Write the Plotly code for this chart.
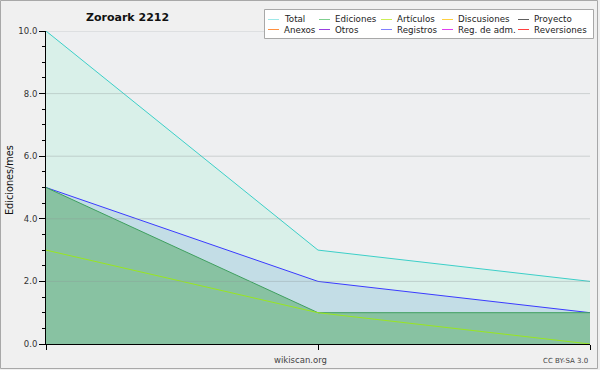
import plotly.graph_objects as go

# ---- data ----
periods = [0, 1, 2]
total = [10, 3, 2]
registros = [5, 2, 1]
ediciones = [5, 1, 1]
articulos = [3, 1, 0]

y_ticks = [0, 2, 4, 6, 8, 10]
y_tick_labels = ["0.0", "2.0", "4.0", "6.0", "8.0", "10.0"]

legend_rows = [
    ["Total", "Ediciones", "Artículos", "Discusiones", "Proyecto"],
    ["Anexos", "Otros", "Registros", "Reg. de adm.", "Reversiones"],
]
legend_colors = [
    ["#9ee8e8", "#7fcf8f", "#ccee55", "#ffd040", "#606060"],
    ["#ff9040", "#9a40e0", "#8080ff", "#e040f0", "#ff4040"],
]

W, H = 600, 370
L, R, T, B = 46, 590, 31, 344
FONT = "DejaVu Sans"


def px(x):
    return (x - L) / (R - L)


def py(y):
    return (B - y) / (B - T)


fig = go.Figure()
fig.add_trace(go.Scatter(x=periods, y=total, mode="lines", fill="tozeroy",
                         line=dict(color="#3ccfc8", width=1), fillcolor="#d9f0e9",
                         showlegend=False, hoverinfo="skip"))
fig.add_trace(go.Scatter(x=periods, y=registros, mode="lines", fill="tozeroy",
                         line=dict(color="#3a3aff", width=1), fillcolor="#c3dde6",
                         showlegend=False, hoverinfo="skip"))
fig.add_trace(go.Scatter(x=periods, y=ediciones, mode="lines", fill="tozeroy",
                         line=dict(color="#3f9f5f", width=1), fillcolor="#88c2a2",
                         showlegend=False, hoverinfo="skip"))
fig.add_trace(go.Scatter(x=periods, y=articulos, mode="lines",
                         line=dict(color="#99e620", width=1),
                         showlegend=False, hoverinfo="skip"))

shapes = []
# grid lines above fills
for v in y_ticks[1:]:
    shapes.append(dict(type="line", xref="paper", yref="y", x0=0, x1=1, y0=v, y1=v,
                       line=dict(color="rgba(140,150,150,0.35)", width=1), layer="above"))
# outer border
shapes.append(dict(type="rect", xref="paper", yref="paper",
                   x0=px(0.5), x1=px(597.5), y0=py(368.5), y1=py(0.5),
                   line=dict(color="#a8a8a8", width=1), fillcolor="rgba(0,0,0,0)", layer="below"))
# legend box
shapes.append(dict(type="rect", xref="paper", yref="paper",
                   x0=px(264.5), x1=px(593.5), y0=py(38.5), y1=py(9.5),
                   line=dict(color="#a8a8a8", width=1), fillcolor="#ffffff", layer="above"))

annotations = []
col_sym = [268, 319, 381, 442, 518]
row_y = [19.5, 29.5]
for r, (names, cols) in enumerate(zip(legend_rows, legend_colors)):
    for c, (name, col) in enumerate(zip(names, cols)):
        x0 = col_sym[c]
        shapes.append(dict(type="line", xref="paper", yref="paper",
                           x0=px(x0), x1=px(x0 + 11), y0=py(row_y[r]), y1=py(row_y[r]),
                           line=dict(color=col, width=1), layer="above"))
        annotations.append(dict(text=name, xref="paper", yref="paper",
                                x=px(x0 + 14), y=py(row_y[r]), xanchor="left", yanchor="middle",
                                showarrow=False, font=dict(family=FONT, size=8.7, color="#222")))

annotations.append(dict(text="<b>Zoroark 2212</b>", xref="paper", yref="paper",
                        x=px(127), y=py(17), xanchor="center", yanchor="middle",
                        showarrow=False, font=dict(family=FONT, size=11, color="#111")))
annotations.append(dict(text="Ediciones/mes", xref="paper", yref="paper",
                        x=px(9), y=py(180), xanchor="center", yanchor="middle", textangle=-90,
                        showarrow=False, font=dict(family=FONT, size=9.7, color="#111")))
annotations.append(dict(text="wikiscan.org", xref="paper", yref="paper",
                        x=px(300), y=py(360), xanchor="center", yanchor="middle",
                        showarrow=False, font=dict(family=FONT, size=8.5, color="#444")))
annotations.append(dict(text="CC BY-SA 3.0", xref="paper", yref="paper",
                        x=px(590), y=py(361), xanchor="right", yanchor="middle",
                        showarrow=False, font=dict(family=FONT, size=7, color="#444")))

fig.update_layout(
    width=W, height=H,
    margin=dict(l=L, r=W - R, t=T, b=H - B, autoexpand=False),
    paper_bgcolor="#f0f0f0", plot_bgcolor="#eeeff1",
    shapes=shapes, annotations=annotations, showlegend=False,
    font=dict(family=FONT, size=9, color="#222"),
)
fig.update_xaxes(range=[0, 2], tickvals=periods, ticktext=["", "", ""], ticks="outside",
                 ticklen=5, tickcolor="#000", showgrid=False, zeroline=False,
                 showline=True, linecolor="#000", linewidth=1, fixedrange=True,
                 automargin=False)
fig.update_yaxes(range=[0, 10], tickvals=y_ticks, ticktext=y_tick_labels, ticks="outside",
                 ticklen=6, tickcolor="#000", showgrid=False, zeroline=False,
                 showline=True, linecolor="#000", linewidth=1,
                 minor=dict(dtick=0.5, ticks="outside", ticklen=3, tickcolor="#000", showgrid=False),
                 tickfont=dict(family=FONT, size=8.5, color="#333"),
                 fixedrange=True, automargin=False)

fig.write_html("out.html", config={"displayModeBar": False, "staticPlot": True})

# remove the browser's default page margin so the figure sits at the window's corner
with open("out.html", "r", encoding="utf-8") as f:
    html = f.read()
html = html.replace("<head>", "<head><style>html,body{margin:0;padding:0;overflow:hidden;}</style>", 1)
with open("out.html", "w", encoding="utf-8") as f:
    f.write(html)
